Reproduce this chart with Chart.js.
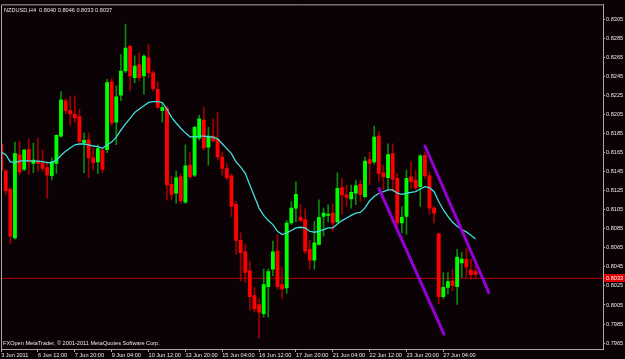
<!DOCTYPE html>
<html><head><meta charset="utf-8">
<script src="https://cdn.jsdelivr.net/npm/chart.js@4"></script>
<style>html,body{margin:0;padding:0;background:#0b0206;overflow:hidden}canvas{display:block}</style>
</head><body>
<canvas id="c" width="625" height="359"></canvas>
<script>
const symbolTitle = "NZDUSD,H4";
const lastOHLC = ["0.8040", "0.8046", "0.8033", "0.8037"];
const copyrightText = "FXOpen MetaTrader, \u00a9 2001-2011 MetaQuotes Software Corp.";

const opens = [.81743,.81459,.81264,.80755,.81628,.81472,.81684,.81535,.81558,.81542,
.81493,.81407,.81535,.81823,.82194,.82090,.82055,.82028,.81753,.81784,
.81594,.81552,.81674,.81680,.82392,.81968,.82252,.82506,.82766,.82436,
.82575,.82454,.82644,.82488,.82315,.82090,.82114,.81316,.81223,.81396,
.81129,.81518,.81414,.81802,.81992,.81708,.81823,.81788,.81604,.81483,
.81407,.81108,.80728,.80609,.80408,.80148,.80055,.79958,.80242,.80426,
.80616,.80263,.80228,.80911,.81067,.80970,.80946,.80634,.80520,.80686,
.80980,.80991,.81015,.80921,.81282,.81206,.81164,.81223,.81316,.81188,
.81576,.81552,.81823,.81438,.81386,.81639,.81379,.80911,.80980,.81396,
.81362,.81292,.81622,.81407,.81067,.80796,.80138,.80235,.80304,.80242,
.80492,.80530,.80416,.80400];
const highs = [.81760,.81469,.81282,.81760,.81768,.81688,.81795,.81750,.81802,.81680,
.81552,.81594,.81836,.82291,.82218,.82246,.82246,.82107,.81854,.81857,
.81691,.81732,.81698,.82419,.82426,.82350,.82679,.82998,.82780,.82665,
.82696,.82676,.82783,.82509,.82392,.82176,.82135,.81396,.81456,.81428,
.81732,.81656,.81927,.82044,.82124,.81916,.82003,.82072,.81656,.81535,
.81428,.81136,.80807,.80686,.80512,.80235,.80114,.80426,.80426,.80720,
.80790,.80443,.80936,.81136,.81344,.81108,.81060,.80728,.80928,.81154,
.81067,.81102,.81108,.81438,.81379,.81310,.81310,.81362,.81362,.81604,
.81656,.81927,.81872,.81518,.81743,.81743,.81431,.81084,.81466,.81552,
.81466,.81628,.81656,.81448,.81084,.80807,.80391,.80391,.80426,.80634,
.80599,.80644,.80530,.80460];
const lows = [.81438,.81209,.80692,.80741,.81417,.81459,.81420,.81438,.81456,.81456,
.81171,.81362,.81431,.81812,.82055,.81934,.81968,.81743,.81438,.81386,
.81466,.81431,.81438,.81649,.81934,.81732,.82194,.82488,.82298,.82384,
.82405,.82263,.82436,.82301,.82114,.81968,.81154,.81154,.81119,.81119,
.81116,.81379,.81396,.81781,.81674,.81518,.81760,.81570,.81414,.81362,
.80980,.80582,.80304,.80287,.79992,.79975,.79698,.79923,.79923,.80356,
.80218,.80114,.80172,.80897,.80921,.80928,.80590,.80426,.80426,.80679,
.80772,.80921,.80824,.80918,.81004,.81084,.81067,.81102,.81136,.81171,
.81310,.81532,.81344,.81261,.81258,.81240,.80859,.80807,.80790,.81275,
.81258,.81084,.81379,.81004,.80911,.80062,.80114,.80166,.80200,.80055,
.80339,.80339,.80322,.80330];
const closes = [.81466,.81251,.80772,.81639,.81448,.81677,.81552,.81570,.81537,.81483,
.81414,.81552,.81830,.82204,.82090,.82055,.82013,.81768,.81778,.81594,
.81545,.81691,.81472,.82384,.81961,.82236,.82506,.82748,.82454,.82558,
.82436,.82662,.82488,.82322,.82124,.82124,.81310,.81212,.81386,.81144,
.81511,.81396,.81916,.82003,.81698,.81823,.81778,.81604,.81483,.81386,
.81084,.80728,.80599,.80391,.80138,.80010,.79975,.80263,.80401,.80609,
.80242,.80218,.80911,.81067,.81212,.80936,.80616,.80520,.80703,.80970,
.81015,.81004,.80911,.81275,.81206,.81178,.81233,.81303,.81212,.81560,
.81535,.81812,.81431,.81396,.81628,.81372,.80911,.80970,.81379,.81344,
.81282,.81615,.81407,.81067,.81015,.80138,.80235,.80297,.80252,.80554,
.80533,.80450,.80367,.80370];
const movingAverage = [.81656,.81628,.81552,.81545,.81560,.81566,.81563,.81560,.81560,.81556,
.81545,.81545,.81570,.81622,.81664,.81698,.81732,.81740,.81740,.81732,
.81719,.81712,.81695,.81732,.81760,.81812,.81885,.81951,.82010,.82072,
.82107,.82142,.82176,.82184,.82184,.82176,.82107,.82020,.81961,.81906,
.81857,.81816,.81812,.81823,.81823,.81816,.81812,.81795,.81743,.81691,
.81639,.81552,.81500,.81433,.81310,.81188,.81067,.80991,.80936,.80894,
.80824,.80790,.80807,.80832,.80859,.80866,.80859,.80824,.80814,.80824,
.80842,.80859,.80859,.80900,.80936,.80963,.80991,.81015,.81022,.81069,
.81144,.81188,.81223,.81240,.81258,.81258,.81223,.81212,.81223,.81233,
.81240,.81268,.81292,.81282,.81240,.81136,.81050,.80980,.80921,.80876,
.80842,.80817,.80783,.80744];

const timeTickIndex = [0, 8, 16, 24, 32, 40, 48, 56, 64, 72, 80, 88, 96];
const timeTickLabels = ["3 Jun 2011", "6 Jun 12:00", "7 Jun 20:00", "9 Jun 04:00", "10 Jun 12:00",
  "13 Jun 20:00", "15 Jun 04:00", "16 Jun 12:00", "17 Jun 20:00", "21 Jun 04:00",
  "22 Jun 12:00", "23 Jun 20:00", "27 Jun 04:00"];
const priceTicks = [0.8305, 0.8285, 0.8265, 0.8245, 0.8225, 0.8205, 0.8185, 0.8165, 0.8145,
  0.8125, 0.8105, 0.8085, 0.8065, 0.8045, 0.8025, 0.8005, 0.7985, 0.7965];
const bidPrice = 0.8033;
const trendA_x = [82.03, 96.14];
const trendA_y = [0.81272, 0.79743];
const trendB_x = [92.02, 105.9];
const trendB_y = [0.81719, 0.80180];

// axis ranges
const X_MIN = -0.03, X_MAX = 130.67;
const Y_MIN = 0.79588, Y_MAX = 0.83206;

const BG = '#0b0206', FRAME = '#a8a8a8', TXT = '#e8e8e8';
const FONT = {family: "'Liberation Sans', Arial, sans-serif", size: 5.6};

const bullBody = [], bearBody = [], bullWick = [], bearWick = [];
opens.forEach((o, i) => {
  const c = closes[i];
  if (c >= o) { bullBody.push({x: i, y: [o, c]}); bullWick.push({x: i, y: [lows[i], highs[i]]}); }
  else { bearBody.push({x: i, y: [c, o]}); bearWick.push({x: i, y: [lows[i], highs[i]]}); }
});
const maData = movingAverage.map((v, i) => ({x: i, y: v}));

const mtPlugin = {
  id: 'mt',
  beforeDraw(chart) {
    const ctx = chart.ctx;
    ctx.save(); ctx.fillStyle = BG; ctx.fillRect(0, 0, chart.width, chart.height); ctx.restore();
  },
  afterDraw(chart) {
    const ctx = chart.ctx, a = chart.chartArea, ys = chart.scales.y;
    ctx.save();
    ctx.strokeStyle = FRAME; ctx.lineWidth = 1;
    ctx.beginPath();
    ctx.moveTo(a.left + 0.5, a.bottom); ctx.lineTo(a.left + 0.5, a.top + 0.5); ctx.lineTo(a.right, a.top + 0.5);
    ctx.stroke();
    ctx.font = FONT.size + 'px ' + FONT.family;
    ctx.fillStyle = TXT; ctx.textBaseline = 'middle'; ctx.textAlign = 'left';
    ctx.fillText(symbolTitle + '  ' + lastOHLC.join(' '), a.left + 3, a.top + 6);
    ctx.fillText(copyrightText, a.left + 2, a.bottom - 6);
    // bid label
    const yb = Math.round(ys.getPixelForValue(bidPrice));
    ctx.fillStyle = '#e00000';
    ctx.fillRect(a.right + 1, yb - 4, chart.width - a.right - 1, 8);
    ctx.fillStyle = '#ffffff';
    ctx.fillText(bidPrice.toFixed(4), a.right + 3, yb + 0.5);
    ctx.restore();
  }
};

new Chart(document.getElementById('c'), {
  type: 'bar',
  data: {
    datasets: [
      {type: 'line', data: [{x: X_MIN, y: bidPrice}, {x: X_MAX, y: bidPrice}], borderColor: '#b40000', borderWidth: 1, pointRadius: 0, order: 10},
      {data: bullWick, backgroundColor: '#0a8a0a', barThickness: 1, grouped: false, order: 9},
      {data: bearWick, backgroundColor: '#a00000', barThickness: 1, grouped: false, order: 9},
      {data: bullBody, backgroundColor: '#00ff00', barThickness: 3.2, grouped: false, minBarLength: 1, order: 8},
      {data: bearBody, backgroundColor: '#ff0000', barThickness: 3.2, grouped: false, minBarLength: 1, order: 8},
      {type: 'line', data: maData, borderColor: '#40dede', borderWidth: 1.3, pointRadius: 0, tension: 0, order: 2},
      {type: 'line', data: trendA_x.map((x, i) => ({x, y: trendA_y[i]})), borderColor: '#9400d3', borderWidth: 3, borderCapStyle: 'round', pointRadius: 0, order: 1},
      {type: 'line', data: trendB_x.map((x, i) => ({x, y: trendB_y[i]})), borderColor: '#9400d3', borderWidth: 3, borderCapStyle: 'round', pointRadius: 0, order: 1}
    ]
  },
  options: {
    responsive: false, animation: false, devicePixelRatio: 1,
    layout: {padding: {left: 1, top: 1, right: 0, bottom: 0}},
    plugins: {legend: {display: false}, tooltip: {enabled: false}},
    scales: {
      x: {
        type: 'linear', min: X_MIN, max: X_MAX, offset: false,
        afterBuildTicks: s => { s.ticks = timeTickIndex.map(v => ({value: v})); },
        afterFit: s => { s.height = 10; },
        grid: {display: true, drawOnChartArea: false, drawTicks: true, tickLength: 3, color: FRAME, offset: false},
        border: {display: true, color: FRAME},
        ticks: {align: 'start', maxRotation: 0, minRotation: 0, autoSkip: false, padding: 0, color: TXT, font: FONT,
          callback: v => timeTickLabels[timeTickIndex.indexOf(v)]}
      },
      y: {
        type: 'linear', position: 'right', min: Y_MIN, max: Y_MAX,
        afterBuildTicks: s => { s.ticks = priceTicks.map(v => ({value: v})); },
        afterFit: s => { s.width = 22; },
        grid: {display: true, drawOnChartArea: false, drawTicks: true, tickLength: 2, color: FRAME},
        border: {display: true, color: FRAME},
        ticks: {autoSkip: false, padding: 1, color: TXT, font: FONT, callback: v => v.toFixed(4)}
      }
    }
  },
  plugins: [mtPlugin]
});
</script>
</body></html>
